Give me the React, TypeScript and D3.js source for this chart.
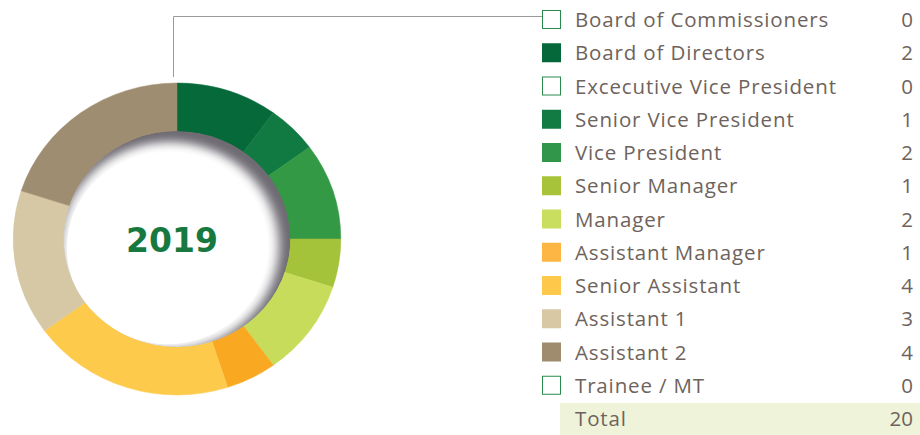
import React from "react";
import * as d3 from "d3";

const categories = [
  "Board of Commissioners",
  "Board of Directors",
  "Excecutive Vice President",
  "Senior Vice President",
  "Vice President",
  "Senior Manager",
  "Manager",
  "Assistant Manager",
  "Senior Assistant",
  "Assistant 1",
  "Assistant 2",
  "Trainee / MT",
];
const values = [0, 2, 0, 1, 2, 1, 2, 1, 4, 3, 4, 0];
const colors = [
  "#ffffff",
  "#04683a",
  "#ffffff",
  "#127a43",
  "#31954a",
  "#a6c33a",
  "#c9dd5e",
  "#fdb643",
  "#fec84a",
  "#d8c9a4",
  "#9f8c6e",
  "#ffffff",
];
const sliceColors = [
  "#ffffff",
  "#05693a",
  "#ffffff",
  "#107a42",
  "#339944",
  "#a5c23b",
  "#c8dc5c",
  "#f9a921",
  "#fdca4c",
  "#d6c8a5",
  "#9e8d70",
  "#ffffff",
];
const yearLabel = "2019";
const totalLabel = "Total";

export default function App() {
  const W = 920;
  const H = 435;
  const cx = 177;
  const cy = 239;
  const sx = 1.05;
  const rOuter = 156;
  const rInner = 108;

  const data = categories.map((c, i) => ({ c, v: values[i], color: sliceColors[i], i }));
  const pie = d3
    .pie<any>()
    .value((d) => d.v)
    .sort(null);
  const arcs = pie(data.filter((d) => d.v > 0));
  const arc = d3.arc<any>().innerRadius(rInner - 2).outerRadius(rOuter);

  const total = d3.sum(values);
  const rowY = d3
    .scaleLinear()
    .domain([0, categories.length])
    .range([20, 20 + 33.25 * categories.length]);

  const legendX = 542;
  const textX = 575;
  const valX = 913;
  const textColor = "#6e635c";
  const font = "'Open Sans', sans-serif";
  const fs = 20.5;
  const ls = 0.85;

  return (
    <svg width={W} height={H} style={{ position: "absolute", left: 0, top: 0 }}>
      <defs>
        <filter id="blur6" x="-30%" y="-30%" width="160%" height="160%">
          <feGaussianBlur stdDeviation="5" />
        </filter>
        <clipPath id="holeClip">
          <circle cx={0} cy={0} r={rInner} />
        </clipPath>
      </defs>
      <rect width={W} height={H} fill="#ffffff" />
      <g transform={`translate(${cx},${cy}) scale(${sx},1)`}>
        {arcs.map((a, k) => (
          <path key={k} d={arc(a) as string} fill={a.data.color} stroke={a.data.color} strokeWidth={0.5} />
        ))}
        <g clipPath="url(#holeClip)">
          <circle cx={0} cy={0} r={rInner} fill="#6d6a72" />
          <circle cx={-7} cy={7} r={rInner - 4} fill="#ffffff" filter="url(#blur6)" />
          <circle cx={-9} cy={9} r={rInner - 12} fill="#ffffff" />
        </g>
      </g>
      <text
        x={cx - 5}
        y={cy + 13}
        textAnchor="middle"
        fontFamily="'DejaVu Sans', sans-serif"
        fontWeight="bold"
        fontSize={33}
        fill="#17793f"
      >
        {yearLabel}
      </text>
      <path d={`M${173.5},${77} V${16.5} H${legendX}`} fill="none" stroke="#9a9a9a" strokeWidth={1} />
      <rect x={560} y={403} width={W - 560} height={32} fill="#eef3da" />
      {categories.map((c, i) => {
        const y = rowY(i);
        const empty = values[i] === 0;
        return (
          <g key={c}>
            <rect
              x={empty ? legendX + 0.5 : legendX}
              y={empty ? y - 9.5 : y - 10}
              width={empty ? 18 : 19}
              height={empty ? 18 : 19}
              fill={colors[i]}
              stroke={empty ? "#2a8a4e" : "none"}
              strokeWidth={1}
            />
            <text x={textX} y={y + 7} fontFamily={font} fontSize={fs} letterSpacing={ls} fill={textColor}>
              {c}
            </text>
            <text x={valX} y={y + 7} textAnchor="end" fontFamily={font} fontSize={fs} fill={textColor}>
              {values[i]}
            </text>
          </g>
        );
      })}
      <text
        x={textX}
        y={rowY(categories.length) + 7}
        fontFamily={font}
        fontSize={fs}
        letterSpacing={ls}
        fill={textColor}
      >
        {totalLabel}
      </text>
      <text
        x={valX}
        y={rowY(categories.length) + 7}
        textAnchor="end"
        fontFamily={font}
        fontSize={fs}
        fill={textColor}
      >
        {total}
      </text>
    </svg>
  );
}
